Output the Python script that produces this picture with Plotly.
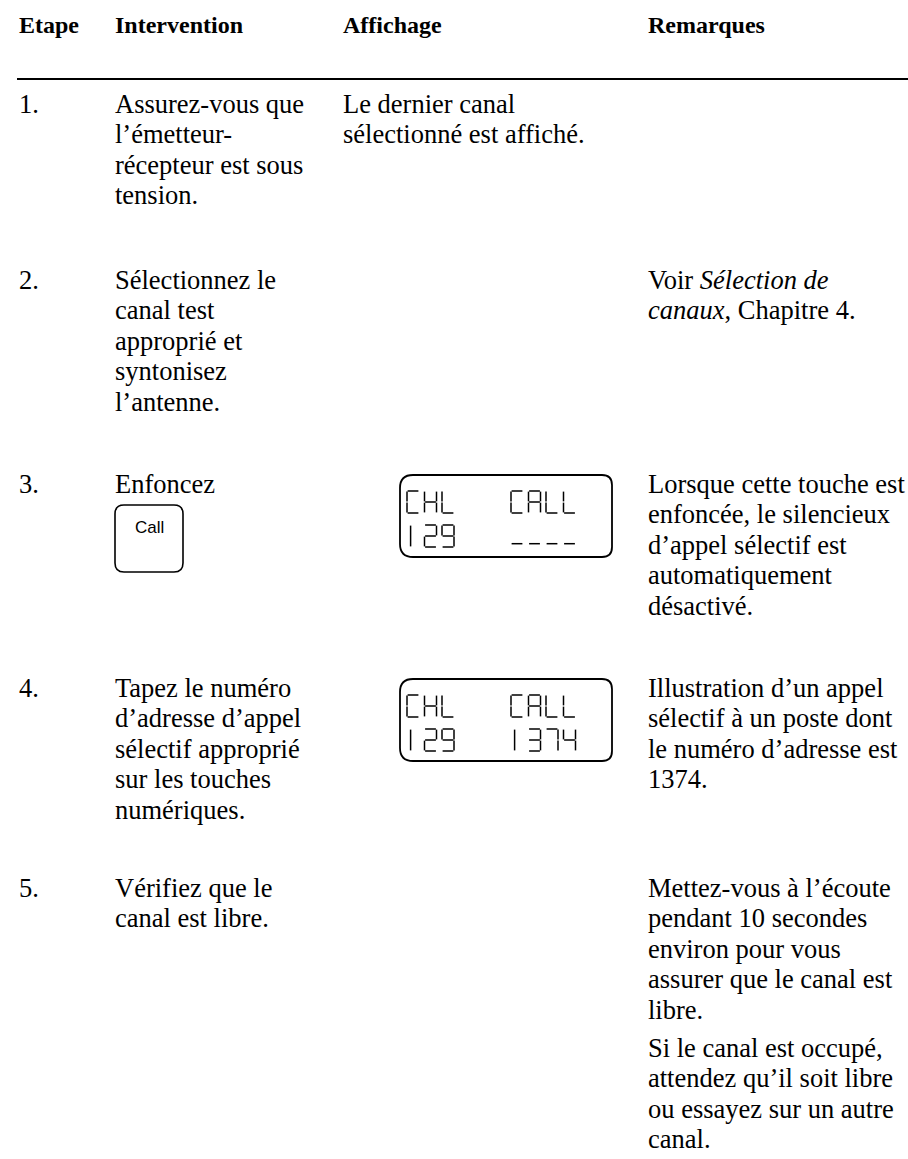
import plotly.graph_objects as go

# ---------------- data ----------------
headers = ["Etape", "Intervention", "Affichage", "Remarques"]
steps = ["1.", "2.", "3.", "4.", "5."]
intervention = [
    ["Assurez-vous que", "l’émetteur-", "récepteur est sous", "tension."],
    ["Sélectionnez le", "canal test", "approprié et", "syntonisez", "l’antenne."],
    ["Enfoncez"],
    ["Tapez le numéro", "d’adresse d’appel", "sélectif approprié", "sur les touches", "numériques."],
    ["Vérifiez que le", "canal est libre."],
]
affichage = [
    ["Le dernier canal", "sélectionné est affiché."],
    [], [], [], [],
]
lcd_screens = [None, None, ["CHL", "CALL", "129", "----"], ["CHL", "CALL", "129", "1374"], None]
key_labels = [None, None, "Call", None, None]
remarques = [
    [],
    [["Voir <i>Sélection de</i>", "<i>canaux</i>, Chapitre 4."]],
    [["Lorsque cette touche est", "enfoncée, le silencieux", "d’appel sélectif est",
      "automatiquement", "désactivé."]],
    [["Illustration d’un appel", "sélectif à un poste dont", "le numéro d’adresse est", "1374."]],
    [["Mettez-vous à l’écoute", "pendant 10 secondes", "environ pour vous",
      "assurer que le canal est", "libre."],
     ["Si le canal est occupé,", "attendez qu’il soit libre", "ou essayez sur un autre", "canal."]],
]

# ---------------- layout constants ----------------
W, H = 908, 1159
col_x = [17, 113, 341, 646]
header_y = 25
rule_y = 79
row_y = [104, 280, 484, 688, 888]
LINE = 30.4
PARA = 8
FS = 26.5
HFS = 24
SERIF = "Liberation Serif"

fig = go.Figure()
ann = []
shapes = []

def text(x, y, s, bold=False, size=FS, family=SERIF):
    ann.append(dict(x=x, y=y, xref="x", yref="y", text=s, showarrow=False,
                    xanchor="left", yanchor="middle",
                    font=dict(family=family, size=size, color="black",
                              weight="bold" if bold else "normal")))

def rrect(x0, y0, x1, y1, r, lw=1.6, rl=None):
    rl = r if rl is None else rl
    p = (f"M {x0+rl},{y0} L {x1-r},{y0} Q {x1},{y0} {x1},{y0+r} "
         f"L {x1},{y1-r} Q {x1},{y1} {x1-r},{y1} L {x0+rl},{y1} "
         f"Q {x0},{y1} {x0},{y1-rl} L {x0},{y0+rl} Q {x0},{y0} {x0+rl},{y0} Z")
    shapes.append(dict(type="path", path=p, xref="x", yref="y",
                       line=dict(color="black", width=lw)))

# header
for hx, h in zip(col_x, headers):
    text(hx, header_y, h, bold=True, size=HFS)
shapes.append(dict(type="line", x0=col_x[0], x1=W, y0=rule_y, y1=rule_y,
                   xref="x", yref="y", line=dict(color="black", width=2)))

# seven-segment glyphs (normalised 0..1 cell coords, y downwards)
SEG = {
    "a": ((0, 0), (1, 0)), "b": ((1, 0), (1, 0.5)), "c": ((1, 0.5), (1, 1)),
    "d": ((0, 1), (1, 1)), "e": ((0, 0.5), (0, 1)), "f": ((0, 0), (0, 0.5)),
    "g": ((0, 0.5), (1, 0.5)), "i": ((0.3, 0), (0.3, 1)), "u": ((0, 0.85), (1, 0.85)),
}
GLYPH = {
    "C": "afed", "H": "fegbc", "L": "fed", "A": "abcefg", "1": "i",
    "2": "abged", "9": "abcdfg", "3": "abgcd", "7": "abc", "4": "fgbc", "-": "u",
}
seg_x, seg_y = [], []
CW, CH, PITCH, GAP = 12, 22, 17.5, 0.6

def draw_str(x0, y0, s):
    for k, ch in enumerate(s):
        cx = x0 + k * PITCH
        for sname in GLYPH.get(ch, ""):
            (ax, ay), (bx, by) = SEG[sname]
            dx = (bx - ax) * CW
            dy = (by - ay) * CH
            gx = GAP if dx else 0
            gy = GAP if dy else 0
            seg_x.extend([cx + ax * CW + gx, cx + bx * CW - gx, None])
            seg_y.extend([y0 + ay * CH + gy, y0 + by * CH - gy, None])

for i, y in enumerate(row_y):
    text(col_x[0], y, steps[i])
    for j, line in enumerate(intervention[i]):
        text(col_x[1], y + j * LINE, line)
    for j, line in enumerate(affichage[i]):
        text(col_x[2], y + j * LINE, line)
    yy = y
    for p, para in enumerate(remarques[i]):
        for line in para:
            text(col_x[3], yy, line)
            yy += LINE
        yy += PARA
    if key_labels[i]:
        kx0, ky0 = col_x[1] + 2, y + 21
        rrect(kx0, ky0, kx0 + 68, ky0 + 67, 9)
        ann.append(dict(x=kx0 + 34, y=ky0 + 22, xref="x", yref="y", text=key_labels[i],
                        showarrow=False, xanchor="center", yanchor="middle",
                        font=dict(family="Liberation Sans", size=17, color="black")))
    if lcd_screens[i]:
        bx0, by0 = 400, y - 9
        rrect(bx0, by0, 612, by0 + 82, 10, lw=1.8, rl=13)
        l1, r1, l2, r2 = lcd_screens[i]
        draw_str(407, by0 + 16, l1)
        draw_str(511, by0 + 16, r1)
        draw_str(407, by0 + 50, l2)
        draw_str(511 + (4 - len(r2)) * PITCH, by0 + 50, r2)

fig.add_trace(go.Scatter(x=seg_x, y=seg_y, mode="lines",
                         line=dict(color="black", width=1.5),
                         hoverinfo="skip", showlegend=False))

fig.update_layout(
    width=W, height=H, margin=dict(l=0, r=0, t=0, b=0),
    paper_bgcolor="white", plot_bgcolor="white",
    xaxis=dict(range=[0, W], visible=False, fixedrange=True),
    yaxis=dict(range=[H, 0], visible=False, fixedrange=True),
    annotations=ann, shapes=shapes, showlegend=False,
)
fig.write_html("out.html", config={"displayModeBar": False},
               post_script="document.body.style.margin='0px';")
